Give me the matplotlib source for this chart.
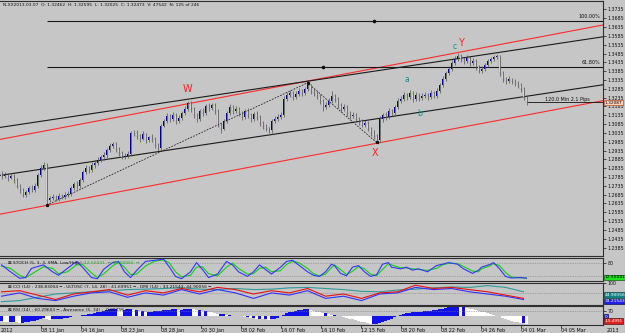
import matplotlib
matplotlib.use("Agg")
import matplotlib.pyplot as plt
import numpy as np

BG = '#c6c6c6'

# ---------------- price data (H4 bars) ----------------
closes = [1.2789,1.2794,1.2777,1.2789,1.2766,1.2732,1.2710,1.2681,1.2698,1.2721,
          1.2710,1.2732,1.2794,1.2834,1.2851,1.2653,1.2664,1.2670,1.2659,1.2676,
          1.2670,1.2681,1.2687,1.2721,1.2744,1.2732,1.2766,1.2811,1.2834,1.2823,
          1.2851,1.2862,1.2879,1.2896,1.2907,1.2936,1.2958,1.2970,1.2941,1.2919,
          1.2896,1.2902,1.2913,1.3032,1.3037,1.3015,1.3003,1.3026,1.2992,1.3009,
          1.2998,1.2964,1.2947,1.3077,1.3105,1.3133,1.3116,1.3139,1.3105,1.3122,
          1.3150,1.3173,1.3207,1.3173,1.3139,1.3116,1.3162,1.3150,1.3190,1.3178,
          1.3195,1.3162,1.3082,1.3060,1.3105,1.3150,1.3184,1.3162,1.3173,1.3150,
          1.3128,1.3162,1.3139,1.3116,1.3145,1.3128,1.3094,1.3077,1.3060,1.3049,
          1.3105,1.3116,1.3128,1.3139,1.3229,1.3252,1.3263,1.3240,1.3257,1.3274,
          1.3263,1.3286,1.3308,1.3274,1.3263,1.3246,1.3218,1.3184,1.3195,1.3218,
          1.3246,1.3229,1.3195,1.3173,1.3184,1.3150,1.3133,1.3139,1.3116,1.3105,
          1.3082,1.3094,1.3060,1.3037,1.3015,1.2992,1.3116,1.3139,1.3128,1.3162,
          1.3150,1.3184,1.3218,1.3229,1.3252,1.3240,1.3263,1.3229,1.3252,1.3235,
          1.3246,1.3252,1.3240,1.3263,1.3246,1.3274,1.3308,1.3342,1.3376,1.3398,
          1.3432,1.3455,1.3472,1.3455,1.3444,1.3460,1.3432,1.3444,1.3410,1.3387,
          1.3398,1.3421,1.3444,1.3455,1.3466,1.3472,1.3376,1.3342,1.3331,1.3342,
          1.3331,1.3319,1.3308,1.3286,1.3240,1.32087]
highs = [1.2817,1.2811,1.2806,1.2806,1.2800,1.2777,1.2744,1.2721,1.2710,1.2732,
         1.2738,1.2749,1.2806,1.2851,1.2868,1.2862,1.2676,1.2687,1.2681,1.2693,
         1.2687,1.2698,1.2704,1.2732,1.2755,1.2760,1.2777,1.2823,1.2851,1.2845,
         1.2868,1.2879,1.2896,1.2907,1.2924,1.2947,1.2975,1.2986,1.2981,1.2953,
         1.2930,1.2919,1.2930,1.3043,1.3054,1.3049,1.3026,1.3043,1.3037,1.3020,
         1.3026,1.3009,1.2975,1.3088,1.3116,1.3150,1.3145,1.3156,1.3150,1.3139,
         1.3162,1.3190,1.3218,1.3218,1.3184,1.3150,1.3173,1.3178,1.3201,1.3207,
         1.3207,1.3207,1.3173,1.3094,1.3116,1.3162,1.3201,1.3195,1.3190,1.3184,
         1.3162,1.3173,1.3178,1.3150,1.3156,1.3162,1.3139,1.3105,1.3088,1.3071,
         1.3116,1.3133,1.3145,1.3156,1.3246,1.3269,1.3280,1.3274,1.3274,1.3291,
         1.3286,1.3297,1.3319,1.3314,1.3291,1.3274,1.3257,1.3229,1.3212,1.3235,
         1.3274,1.3257,1.3240,1.3207,1.3201,1.3195,1.3162,1.3156,1.3150,1.3128,
         1.3116,1.3111,1.3105,1.3071,1.3049,1.3026,1.3133,1.3150,1.3156,1.3178,
         1.3173,1.3195,1.3235,1.3246,1.3269,1.3263,1.3280,1.3274,1.3269,1.3263,
         1.3263,1.3269,1.3263,1.3280,1.3274,1.3291,1.3319,1.3359,1.3387,1.3415,
         1.3449,1.3472,1.3489,1.3483,1.3466,1.3477,1.3472,1.3460,1.3455,1.3421,
         1.3415,1.3432,1.3455,1.3466,1.3477,1.3483,1.3477,1.3387,1.3353,1.3359,
         1.3348,1.3342,1.3331,1.3319,1.3297,1.3246]
lows = [1.2772,1.2777,1.2760,1.2772,1.2749,1.2721,1.2693,1.2670,1.2670,1.2687,
        1.2698,1.2698,1.2721,1.2783,1.2823,1.2625,1.2642,1.2653,1.2647,1.2647,
        1.2659,1.2659,1.2670,1.2676,1.2710,1.2715,1.2721,1.2755,1.2800,1.2806,
        1.2811,1.2834,1.2851,1.2868,1.2879,1.2890,1.2924,1.2947,1.2924,1.2902,
        1.2885,1.2885,1.2890,1.2902,1.3020,1.2998,1.2986,1.2992,1.2975,1.2981,
        1.2986,1.2947,1.2930,1.2936,1.3066,1.3094,1.3099,1.3105,1.3088,1.3094,
        1.3111,1.3139,1.3162,1.3156,1.3122,1.3099,1.3105,1.3133,1.3139,1.3162,
        1.3167,1.3145,1.3066,1.3037,1.3049,1.3094,1.3139,1.3145,1.3150,1.3133,
        1.3111,1.3116,1.3122,1.3099,1.3105,1.3111,1.3077,1.3060,1.3043,1.3032,
        1.3037,1.3094,1.3105,1.3116,1.3128,1.3218,1.3240,1.3224,1.3229,1.3246,
        1.3246,1.3252,1.3274,1.3257,1.3246,1.3229,1.3201,1.3162,1.3173,1.3184,
        1.3207,1.3212,1.3178,1.3156,1.3162,1.3133,1.3116,1.3122,1.3099,1.3082,
        1.3066,1.3071,1.3043,1.3020,1.2998,1.2981,1.2986,1.3099,1.3111,1.3116,
        1.3133,1.3139,1.3173,1.3207,1.3218,1.3224,1.3229,1.3212,1.3218,1.3218,
        1.3224,1.3235,1.3224,1.3229,1.3235,1.3235,1.3263,1.3297,1.3331,1.3365,
        1.3387,1.3421,1.3444,1.3438,1.3427,1.3432,1.3415,1.3421,1.3393,1.3376,
        1.3376,1.3387,1.3410,1.3432,1.3444,1.3455,1.3359,1.3325,1.3314,1.3319,
        1.3314,1.3302,1.3291,1.3269,1.3224,1.3195]
opens = [1.2800] + closes[:-1]

price_ticks = [1.2385,1.2435,1.2485,1.2535,1.2585,1.2635,1.2685,1.2735,1.2785,1.2835,
               1.2885,1.2935,1.2985,1.3035,1.3085,1.3135,1.3185,1.3235,1.3285,1.3335,
               1.3385,1.3435,1.3485,1.3535,1.3585,1.3635,1.3685,1.3735]

# channel lines: price at left edge / right edge
red_channel = [(1.2998, 1.3647), (1.2574, 1.3218)]
black_channel = [(1.3066, 1.3580), (1.2794, 1.3308)]
fib_levels = [1.3670, 1.3410]
fib_texts = ['100.00%', '61.80%']
fib_start_bar = 15
fib_dot_bars = [124, 107]
zigzag_bars = [15, 102, 125]
zigzag_prices = [1.2625, 1.3319, 1.2981]
last_price = 1.32087

wave_labels = [('W', 62, 1.3286, '#ff2020', 7), ('X', 124.5, 1.2919, '#ff2020', 7),
               ('Y', 153.2, 1.3546, '#ff2020', 7), ('c', 151.0, 1.3523, '#109090', 5.5),
               ('a', 135.2, 1.3336, '#109090', 5.5), ('b', 139.5, 1.3145, '#109090', 5.5)]

# ---------------- stochastic ----------------
stoch_bars = [0,3,6,8,10,14,17,19,22,25,27,30,32,34,37,39,41,43,45,48,51,54,56,58,60,
              63,65,67,69,72,75,77,79,82,84,86,88,90,93,95,97,99,102,104,106,108,110,
              111,113,115,117,119,121,123,125,127,129,130,133,135,137,139,142,145,147,
              149,152,154,157,159,160,163,164,166,168,170,173,175]
stoch_main = [70,40,12,15,55,70,40,25,55,85,60,15,10,50,80,85,40,15,45,85,90,95,60,20,10,
              40,80,50,15,30,85,70,40,20,40,70,50,30,60,85,90,70,40,25,20,40,73,
              67,33,23,60,67,40,20,27,73,80,60,53,60,47,53,40,67,73,
              80,73,53,33,47,60,73,80,53,20,13,15,12]
stoch_signal = [65,55,25,14,30,62,55,32,40,70,72,35,15,30,65,82,60,28,30,65,86,92,78,40,18,
                25,60,62,32,22,60,78,55,30,32,55,60,40,45,72,86,80,55,32,22,30,58,
                70,50,28,42,63,53,30,23,50,76,70,57,57,53,50,46,55,70,
                77,76,63,43,40,53,67,76,67,37,17,14,13]

# ---------------- CCI / ULTOSC / DMI window ----------------
osc_bars = [0,6,12,18,24,30,36,42,48,54,60,66,72,78,84,90,96,102,108,114,120,126,132,138,144,
            150,156,162,168,174]
osc_teal = [15,20,35,50,55,60,65,70,72,75,78,72,70,75,70,72,78,80,75,70,62,60,68,72,78,
            82,80,88,80,60]
osc_red = [60,65,45,25,50,60,70,45,65,55,75,60,80,70,50,65,55,75,40,50,30,55,60,90,75,
           80,70,60,45,30]
osc_blue = [40,55,30,20,40,55,60,35,55,45,70,50,70,55,30,55,45,65,30,40,20,50,55,80,70,
            75,60,50,40,25]

# ---------------- Awesome oscillator (per bar) ----------------
ao = [-6,-7,-8,-8,-7,-8,-9,-9,-8,-7,
      -6,-6,-5,-3,-2,-4,-5,-4,-4,-3,
      -3,-2,-2,-1,0,1,1,2,2,3,
      3,4,5,6,7,8,9,10,10,9,
      8,8,9,9,8,8,7,7,6,6,
      6,7,7,7,8,8,8,9,9,8,
      8,9,10,10,9,8,8,7,7,6,
      5,4,3,3,3,2,2,1,1,0,
      0,-1,-1,-2,-2,-3,-3,-4,-4,-5,
      -4,-3,-2,0,2,4,5,6,7,8,
      8,9,9,8,7,6,5,4,4,3,
      2,2,1,0,-1,-2,-3,-4,-5,-6,
      -7,-8,-9,-10,-10,-10,-9,-8,-6,-5,
      -3,-1,1,2,3,4,4,5,5,6,
      6,7,7,7,8,8,9,10,11,12,
      12,13,13,12,12,11,10,9,8,7,
      6,5,4,3,2,1,0,-2,-4,-5,
      -6,-7,-8,-9,-9,-10]

time_labels = ["08 11 Jan","04 16 Jan","08 23 Jan","08 28 Jan","20 30 Jan","08 02 Feb",
               "16 07 Feb","16 10 Feb","12 15 Feb","08 20 Feb","08 22 Feb","04 26 Feb",
               "04 01 Mar","04 05 Mar"]
time_bars = [13.2,26.5,39.8,53.2,66.5,79.8,93.2,106.5,119.8,133.2,146.5,159.8,173.2,186.5]

# ---------------- figure ----------------
W, H = 625, 333
fig = plt.figure(figsize=(W/100, H/100), dpi=100, facecolor=BG)
plt.rcParams['font.family'] = ['DejaVu Sans']

def rect(top, bottom, right=603):
    return [0, 1 - bottom/H, right/W, (bottom - top)/H]

XL = (-0.5, 200.5)
ax = fig.add_axes(rect(1, 256))
ax_s = fig.add_axes(rect(258, 281))
ax_c = fig.add_axes(rect(283, 305))
ax_a = fig.add_axes(rect(306, 325))

for a in (ax, ax_s, ax_c, ax_a):
    a.set_facecolor(BG)
    a.set_xlim(*XL)
    for s in a.spines.values():
        s.set_color('#303030'); s.set_linewidth(0.8)
    a.spines['left'].set_visible(False)
    a.yaxis.tick_right()
    a.tick_params(axis='y', labelsize=3.4, length=2, width=0.5, pad=1, colors='#101010')
    a.tick_params(axis='x', bottom=False, labelbottom=False)

# main candles
x = np.arange(len(closes))
o = np.array(opens); c = np.array(closes); h = np.array(highs); l = np.array(lows)
ax.vlines(x, l, h, color='#505050', lw=0.5, zorder=3)
up = c >= o
bot = np.minimum(o, c)
hgt = np.maximum(np.abs(c - o), 0.0003)
ax.bar(x[up], hgt[up], bottom=bot[up], width=0.45, color='#000088', edgecolor='none', zorder=4)
ax.bar(x[~up], hgt[~up], bottom=bot[~up], width=0.45, color='#f4f4f4', edgecolor='#606060',
       lw=0.15, zorder=4)

ax.set_ylim(1.2337, 1.3783)
ax.set_yticks(price_ticks)
ax.set_yticklabels([f"{t:.4f}" for t in price_ticks])

for p0, p1 in red_channel:
    ax.plot(XL, [p0, p1], color='#ff2a2a', lw=0.8, zorder=2)
for p0, p1 in black_channel:
    ax.plot(XL, [p0, p1], color='#1a1a1a', lw=0.8, zorder=2)
for lev, txt in zip(fib_levels, fib_texts):
    ax.hlines(lev, fib_start_bar, XL[1], color='#1a1a1a', lw=0.8, zorder=2)
    ax.annotate(txt, (199.5, lev), xytext=(0, 1.5), textcoords='offset points',
                ha='right', va='bottom', fontsize=3.5, color='#101010')
ax.plot(fib_dot_bars, fib_levels, 'o', color='#101010', ms=1.6, zorder=5)
ax.plot(zigzag_bars, zigzag_prices, ls=(0, (2, 1.6)), color='#202020', lw=0.6, zorder=2)
ax.plot(zigzag_bars, zigzag_prices, 's', color='#101010', ms=1.3, zorder=5)

ax.hlines(last_price, len(closes) - 1, XL[1], color='#101010', lw=0.6, zorder=2)
ax.annotate("120.0 Min 2.1 Pips", (196, last_price), xytext=(0, 0.5), textcoords='offset points',
            ha='right', va='bottom', fontsize=3.5, color='#101010')

for txt, bx, py, col, fs in wave_labels:
    ax.text(bx, py, txt, color=col, fontsize=fs, ha='center', va='center', zorder=6)

fig.text(3/W, 1 - 5/H, "N,XX2013.03.07  O: 1.32462  H: 1.32595  L: 1.32025  C: 1.32473  V: 47542  N: 125 of 246",
         fontsize=3.2, color='#101010', va='center', ha='left')
fig.text(604.5/W, 1 - 102.6/H, "1.32087", fontsize=3.1, va='center', ha='left', color='black',
         bbox=dict(boxstyle='square,pad=0.12', fc='#ffd2c0', ec='#c05020', lw=0.5), zorder=10)

# stochastic
ax_s.set_ylim(0, 100)
ax_s.set_yticks([80]); ax_s.set_yticklabels(['80'])
for lv in (80, 20):
    ax_s.axhline(lv, ls=(0, (1, 1.5)), color='#7a7a7a', lw=0.5)
ax_s.plot(stoch_bars, stoch_signal, color='#10d010', lw=0.8)
ax_s.plot(stoch_bars, stoch_main, color='#3434ff', lw=0.8)
ax_s.text(0.013, 0.8, "⊠ STOCH (5, 3, 3, SMA, Low/High) : ", transform=ax_s.transAxes, fontsize=3.2,
          color='#101010', va='center')
ax_s.text(0.14, 0.8, "12.55041  ━  13.00060  ━", transform=ax_s.transAxes, fontsize=3.2,
          color='#10b010', va='center')
fig.text(604.5/W, 1 - 277.5/H, "12.55041", fontsize=3.2, va='center', ha='left', color='black',
         bbox=dict(boxstyle='square,pad=0.2', fc='#20e020', ec='#106010', lw=0.5))

# CCI window
ax_c.set_ylim(0, 100)
ax_c.set_yticks([100]); ax_c.set_yticklabels(['100'])
ax_c.axhline(55, ls=(0, (1, 1.5)), color='#7a7a7a', lw=0.5)
ax_c.plot(osc_bars, osc_teal, color='#2f9a9a', lw=0.8)
ax_c.plot(osc_bars, osc_blue, color='#3030ff', lw=0.8)
ax_c.plot(osc_bars, osc_red, color='#e81010', lw=0.8)
ax_c.text(0.013, 0.82, "⊠ CCI (14) : 238.83004 ━ , ULTOSC (7, 14, 28) : 41.69951 ━ , DMI (14) : 33.21543, 44.90056 ━",
          transform=ax_c.transAxes, fontsize=3.2, color='#101010', va='center')
fig.text(604.5/W, 1 - 295/H, "44.90056", fontsize=3.2, va='center', ha='left', color='white',
         bbox=dict(boxstyle='square,pad=0.2', fc='#108080', ec='#104040', lw=0.5))
fig.text(604.5/W, 1 - 301.5/H, "33.21543", fontsize=3.2, va='center', ha='left', color='white',
         bbox=dict(boxstyle='square,pad=0.2', fc='#2020e0', ec='#101060', lw=0.5))

# Awesome / RSI window
ax_a.set_ylim(-11.5, 13.5)
ax_a.set_yticks([7]); ax_a.set_yticklabels(['70'])
ax_a.axhline(7, ls=(0, (1, 1.5)), color='#7a7a7a', lw=0.5)
aov = np.array(ao)
rising = np.r_[True, aov[1:] >= aov[:-1]]
ax_a.bar(np.arange(len(ao))[rising], aov[rising], width=0.7, color='#1010e8', lw=0)
ax_a.bar(np.arange(len(ao))[~rising], aov[~rising], width=0.7, color='white', lw=0)
ax_a.text(0.013, 0.8, "⊠ RSI (14) : 60.29603 ━ , Awesome (5, 34) : -0.00456 ━",
          transform=ax_a.transAxes, fontsize=3.2, color='#101010', va='center')
fig.text(604.5/W, 1 - 316.5/H, "0", fontsize=3.2, va='center', ha='left', color='white',
         bbox=dict(boxstyle='square,pad=0.2', fc='#2020e0', ec='#101060', lw=0.5))
fig.text(604.5/W, 1 - 321/H, "-15.4991", fontsize=3.0, va='center', ha='left', color='white',
         bbox=dict(boxstyle='square,pad=0.15', fc='#e02020', ec='#601010', lw=0.5))

# time axis
ax_a.tick_params(axis='x', bottom=True, labelbottom=True, length=2, width=0.5, pad=0.5,
                 labelsize=3.5, colors='#101010')
ax_a.set_xticks(time_bars)
ax_a.set_xticklabels(time_labels, ha='left')
fig.text(1/W, 1 - 330/H, "2012", fontsize=3.5, va='center', ha='left', color='#101010')
fig.text(607/W, 1 - 330/H, "2013", fontsize=3.5, va='center', ha='left', color='#101010')

fig.savefig("out.png", dpi=100, facecolor=BG)
